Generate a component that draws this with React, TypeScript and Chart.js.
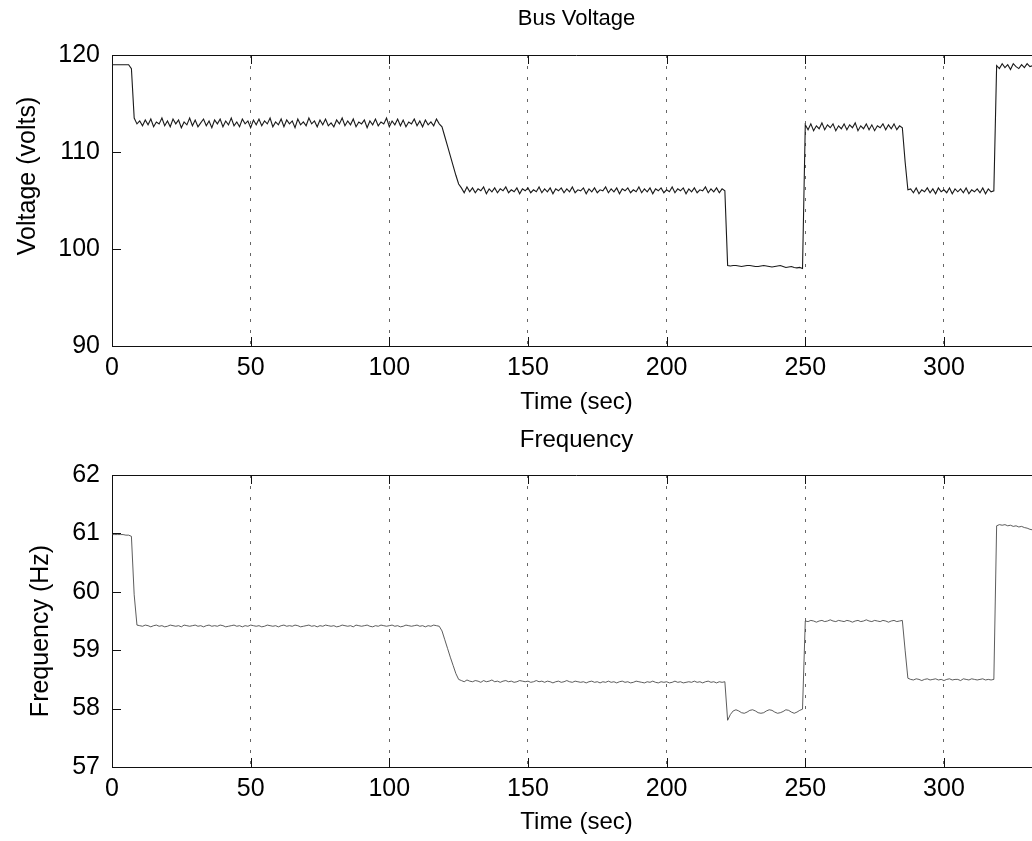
import React, { useEffect, useRef } from "react";
import { Chart, registerables } from "chart.js";

Chart.register(...registerables);

// Samples are one second apart, starting at t = 0 s.
const voltage: number[] = [
  // t 0-9
  119.0, 119.0, 119.0, 119.0, 119.0, 119.0, 119.0, 118.6, 113.5, 112.9,
  // t 10-109
  113.2, 112.7, 113.3, 112.8, 113.4, 112.6, 113.1, 112.9, 113.5, 112.7,
  113.2, 112.6, 113.4, 112.9, 113.3, 112.5, 113.1, 112.8, 113.5, 112.7,
  113.3, 112.6, 113.0, 113.4, 112.7, 113.2, 112.5, 113.3, 112.9, 113.4,
  112.6, 113.2, 112.8, 113.5, 112.7, 113.1, 112.6, 113.4, 112.9, 113.2,
  112.5, 113.3, 112.8, 113.4, 112.7, 113.2, 112.9, 113.5, 112.6, 113.1,
  112.8, 113.4, 112.6, 113.3, 112.9, 113.2, 112.5, 113.4, 112.8, 113.1,
  112.7, 113.5, 112.9, 113.2, 112.6, 113.3, 112.8, 113.4, 112.7, 113.0,
  112.6, 113.3, 112.9, 113.5, 112.7, 113.2, 112.8, 113.4, 112.6, 113.1,
  112.9, 113.3, 112.5, 113.2, 112.8, 113.4, 112.7, 113.1, 112.9, 113.5,
  112.6, 113.2, 112.8, 113.4, 112.7, 113.3, 112.6, 113.1, 112.9, 113.4,
  // t 110-118
  112.7, 113.2, 112.6, 113.3, 112.8, 113.1, 112.7, 113.4, 112.9,
  // t 119-125 (ramp)
  112.6, 111.6, 110.6, 109.6, 108.6, 107.6, 106.7,
  // t 126-129
  106.3, 105.8, 106.4, 105.9,
  // t 130-219
  106.3, 105.8, 106.2, 106.0, 106.4, 105.7, 106.2, 105.9, 106.3, 105.8,
  106.2, 106.0, 106.4, 105.8, 106.1, 105.9, 106.3, 105.7, 106.2, 106.0,
  106.3, 105.8, 106.1, 105.9, 106.4, 105.8, 106.2, 105.9, 106.3, 105.7,
  106.2, 106.0, 106.3, 105.8, 106.2, 105.9, 106.4, 105.8, 106.1, 106.0,
  106.3, 105.7, 106.2, 105.9, 106.3, 105.8, 106.1, 106.0, 106.4, 105.8,
  106.2, 105.9, 106.3, 105.7, 106.2, 106.0, 106.3, 105.8, 106.1, 105.9,
  106.4, 105.8, 106.2, 105.9, 106.3, 105.7, 106.2, 106.0, 106.3, 105.8,
  106.1, 105.9, 106.4, 105.8, 106.2, 106.0, 106.3, 105.7, 106.2, 105.9,
  106.3, 105.8, 106.1, 106.0, 106.4, 105.8, 106.2, 105.9, 106.3, 105.8,
  // t 220-221
  106.2, 106.0,
  // t 222-249
  98.3, 98.25, 98.3, 98.3, 98.25, 98.2, 98.25, 98.3, 98.3, 98.25,
  98.2, 98.2, 98.25, 98.3, 98.25, 98.2, 98.15, 98.2, 98.25, 98.3,
  98.2, 98.1, 98.15, 98.2, 98.1, 98.05, 98.1, 98.0,
  // t 250-285
  112.8, 112.3, 112.9, 112.2, 112.7, 112.4, 113.0, 112.3, 112.8, 112.5,
  112.9, 112.2, 112.7, 112.4, 112.9, 112.3, 112.8, 112.5, 113.0, 112.2,
  112.7, 112.4, 112.9, 112.3, 112.8, 112.2, 112.7, 112.5, 112.9, 112.3,
  112.8, 112.4, 112.9, 112.3, 112.7, 112.5,
  // t 286-287
  109.0, 106.1,
  // t 288-318
  106.2, 105.8, 106.3, 105.7, 106.1, 105.9, 106.3, 105.8, 106.2, 105.7,
  106.3, 105.9, 106.1, 105.8, 106.3, 105.7, 106.2, 105.9, 106.2, 105.8,
  106.3, 105.7, 106.1, 105.9, 106.2, 105.8, 106.3, 105.7, 106.2, 105.9, 106.0,
  // t 319-333
  118.9, 118.6, 119.1, 118.7, 119.0, 118.5, 119.1, 118.8, 118.6, 119.0,
  118.7, 119.1, 118.8, 118.9, 118.6,
];

const frequency: number[] = [
  // t 0-9
  60.98, 60.98, 60.98, 60.98, 60.98, 60.97, 60.97, 60.95, 59.95, 59.43,
  // t 10-109
  59.42, 59.41, 59.43, 59.42, 59.40, 59.42, 59.43, 59.41, 59.42, 59.40,
  59.41, 59.43, 59.42, 59.41, 59.42, 59.40, 59.43, 59.42, 59.41, 59.42,
  59.43, 59.41, 59.42, 59.40, 59.42, 59.43, 59.41, 59.42, 59.41, 59.43,
  59.42, 59.40, 59.41, 59.42, 59.43, 59.41, 59.42, 59.40, 59.42, 59.41,
  59.43, 59.42, 59.41, 59.42, 59.40, 59.41, 59.43, 59.42, 59.41, 59.42,
  59.40, 59.42, 59.43, 59.41, 59.42, 59.41, 59.43, 59.42, 59.40, 59.41,
  59.42, 59.43, 59.41, 59.42, 59.40, 59.42, 59.41, 59.43, 59.42, 59.41,
  59.42, 59.40, 59.41, 59.43, 59.42, 59.41, 59.42, 59.40, 59.43, 59.42,
  59.41, 59.42, 59.43, 59.41, 59.40, 59.42, 59.41, 59.43, 59.42, 59.41,
  59.42, 59.43, 59.41, 59.42, 59.40, 59.41, 59.43, 59.42, 59.41, 59.42,
  // t 110-118
  59.43, 59.41, 59.42, 59.40, 59.42, 59.41, 59.43, 59.42, 59.41,
  // t 119-125 (ramp)
  59.33, 59.18, 59.03, 58.88, 58.74, 58.60, 58.50,
  // t 126-129
  58.48, 58.46, 58.49, 58.47,
  // t 130-219
  58.46, 58.48, 58.47, 58.45, 58.48, 58.46, 58.47, 58.49, 58.46, 58.47,
  58.45, 58.47, 58.48, 58.46, 58.47, 58.45, 58.46, 58.48, 58.47, 58.46,
  58.47, 58.45, 58.46, 58.48, 58.46, 58.47, 58.45, 58.47, 58.46, 58.44,
  58.46, 58.47, 58.45, 58.46, 58.48, 58.46, 58.45, 58.47, 58.46, 58.45,
  58.46, 58.44, 58.46, 58.47, 58.45, 58.46, 58.44, 58.46, 58.45, 58.47,
  58.45, 58.46, 58.44, 58.46, 58.47, 58.45, 58.46, 58.44, 58.45, 58.47,
  58.46, 58.45, 58.44, 58.46, 58.45, 58.47, 58.45, 58.44, 58.46, 58.45,
  58.46, 58.44, 58.45, 58.47, 58.45, 58.46, 58.44, 58.45, 58.46, 58.45,
  58.47, 58.45, 58.46, 58.44, 58.46, 58.47, 58.45, 58.46, 58.44, 58.46,
  // t 220-221
  58.45, 58.46,
  // t 222-249
  57.80, 57.90, 57.96, 57.98, 57.96, 57.93, 57.92, 57.94, 57.97, 57.98,
  57.96, 57.93, 57.92, 57.93, 57.96, 57.98, 57.97, 57.94, 57.92, 57.93,
  57.95, 57.98, 57.97, 57.94, 57.92, 57.94, 57.97, 57.99,
  // t 250-285
  59.50, 59.49, 59.51, 59.50, 59.48, 59.50, 59.51, 59.49, 59.50, 59.52,
  59.50, 59.49, 59.51, 59.50, 59.49, 59.51, 59.50, 59.48, 59.50, 59.51,
  59.49, 59.50, 59.52, 59.50, 59.49, 59.51, 59.50, 59.49, 59.51, 59.50,
  59.48, 59.50, 59.51, 59.49, 59.50, 59.51,
  // t 286-287
  59.00, 58.52,
  // t 288-318
  58.50, 58.49, 58.51, 58.50, 58.48, 58.50, 58.51, 58.49, 58.50, 58.51,
  58.49, 58.50, 58.48, 58.50, 58.51, 58.49, 58.50, 58.50, 58.48, 58.51,
  58.50, 58.49, 58.51, 58.50, 58.49, 58.50, 58.51, 58.49, 58.50, 58.49, 58.50,
  // t 319-333
  61.13, 61.15, 61.14, 61.15, 61.13, 61.14, 61.12, 61.13, 61.11, 61.12,
  61.10, 61.09, 61.07, 61.06, 61.05,
];

const timeTicks = [0, 50, 100, 150, 200, 250, 300];
const voltageTicks = [90, 100, 110, 120];
const frequencyTicks = [57, 58, 59, 60, 61, 62];

const FONT = "'Liberation Sans', Arial, Helvetica, sans-serif";
const FS = 25;
const CANVAS_W = 1045;

const framePlugin = {
  id: "frame",
  afterDraw(chart: any) {
    const { ctx, chartArea: a, scales } = chart;
    const o = chart.options.plugins.frame;
    const L = 9;
    ctx.save();
    ctx.strokeStyle = "#111";
    ctx.lineWidth = 1;
    ctx.setLineDash([]);
    ctx.beginPath();
    ctx.moveTo(a.left, a.top + 0.5);
    ctx.lineTo(a.right, a.top + 0.5);
    ctx.moveTo(a.right - 0.5, a.top);
    ctx.lineTo(a.right - 0.5, a.bottom);
    scales.x.ticks.forEach((t: any) => {
      const px = Math.round(scales.x.getPixelForValue(t.value)) + 0.5;
      ctx.moveTo(px, a.bottom);
      ctx.lineTo(px, a.bottom - L);
      ctx.moveTo(px, a.top);
      ctx.lineTo(px, a.top + L);
    });
    scales.y.ticks.forEach((t: any) => {
      const py = Math.round(scales.y.getPixelForValue(t.value)) + 0.5;
      ctx.moveTo(a.left, py);
      ctx.lineTo(a.left + L, py);
      ctx.moveTo(a.right, py);
      ctx.lineTo(a.right - L, py);
    });
    ctx.stroke();
    ctx.fillStyle = "#000";
    ctx.textAlign = "center";
    ctx.textBaseline = "middle";
    ctx.font = `${o.titleSize}px ${FONT}`;
    ctx.fillText(o.title, (a.left + a.right) / 2, o.titleY);
    ctx.font = `${FS}px ${FONT}`;
    ctx.translate(o.yTitleX, o.yTitleY);
    ctx.rotate(-Math.PI / 2);
    ctx.fillText(o.yTitle, 0, 0);
    ctx.restore();
  },
};

type PanelProps = {
  values: number[];
  color: string;
  lineWidth: number;
  yMin: number;
  yMax: number;
  yTicks: number[];
  title: string;
  titleY: number;
  titleSize: number;
  yTitle: string;
  yTitleX: number;
  yTitleY: number;
  height: number;
  plotTop: number;
  plotBottom: number;
  xTitlePad: number;
};

function Panel(p: PanelProps) {
  const ref = useRef<HTMLCanvasElement | null>(null);
  useEffect(() => {
    if (!ref.current) return;
    const points = p.values.map((v, i) => ({ x: i, y: v }));
    const chart = new Chart(ref.current, {
      type: "line",
      data: {
        datasets: [
          {
            data: points,
            borderColor: p.color,
            borderWidth: p.lineWidth,
            pointRadius: 0,
            tension: 0,
            fill: false,
          },
        ],
      },
      plugins: [framePlugin],
      options: {
        animation: false,
        responsive: false,
        devicePixelRatio: 1,
        layout: { padding: { top: p.plotTop, right: CANVAS_W - 1041, bottom: 0, left: 0 } },
        plugins: {
          legend: { display: false },
          title: { display: false },
          tooltip: { enabled: false },
          frame: {
            title: p.title,
            titleY: p.titleY,
            titleSize: p.titleSize,
            yTitle: p.yTitle,
            yTitleX: p.yTitleX,
            yTitleY: p.yTitleY,
          },
        } as any,
        scales: {
          x: {
            type: "linear",
            min: 0,
            max: 335,
            afterBuildTicks: (s: any) => {
              s.ticks = timeTicks.map((v) => ({ value: v }));
            },
            afterFit: (s: any) => {
              s.height = p.height - p.plotBottom;
            },
            ticks: {
              font: { size: FS, family: FONT },
              color: "#000",
              padding: 7,
              maxRotation: 0,
              autoSkip: false,
            },
            grid: { display: true, drawTicks: false, color: "#666", lineWidth: 1 },
            border: { display: true, color: "#111", width: 1, dash: [3, 8] },
            title: {
              display: true,
              text: "Time (sec)",
              font: { size: 24, family: FONT },
              color: "#000",
              padding: { top: p.xTitlePad, bottom: p.xTitlePad },
            },
          },
          y: {
            type: "linear",
            min: p.yMin,
            max: p.yMax,
            afterBuildTicks: (s: any) => {
              s.ticks = p.yTicks.map((v) => ({ value: v }));
            },
            afterFit: (s: any) => {
              s.width = 112;
            },
            ticks: {
              font: { size: FS, family: FONT },
              color: "#000",
              padding: 12,
            },
            grid: { display: false, drawTicks: false },
            border: { display: true, color: "#111", width: 1 },
            title: { display: false },
          },
        },
      } as any,
    });
    return () => chart.destroy();
  }, []);
  return (
    <canvas
      ref={ref}
      width={CANVAS_W}
      height={p.height}
      style={{ display: "block", width: CANVAS_W, height: p.height }}
    />
  );
}

export default function App() {
  return (
    <div
      style={{
        position: "absolute",
        left: 0,
        top: 0,
        width: 1032,
        height: 841,
        overflow: "hidden",
        background: "#fff",
      }}
    >
      <Panel
        values={voltage}
        color="#1a1a1a"
        lineWidth={1.1}
        yMin={90}
        yMax={120}
        yTicks={voltageTicks}
        title="Bus Voltage"
        titleY={19}
        titleSize={22}
        yTitle="Voltage (volts)"
        yTitleX={28}
        yTitleY={176}
        height={420}
        plotTop={55}
        plotBottom={346}
        xTitlePad={3}
      />
      <Panel
        values={frequency}
        color="#333"
        lineWidth={0.8}
        yMin={57}
        yMax={62}
        yTicks={frequencyTicks}
        title="Frequency"
        titleY={20}
        titleSize={24}
        yTitle="Frequency (Hz)"
        yTitleX={41}
        yTitleY={211}
        height={421}
        plotTop={55}
        plotBottom={347}
        xTitlePad={4}
      />
    </div>
  );
}
